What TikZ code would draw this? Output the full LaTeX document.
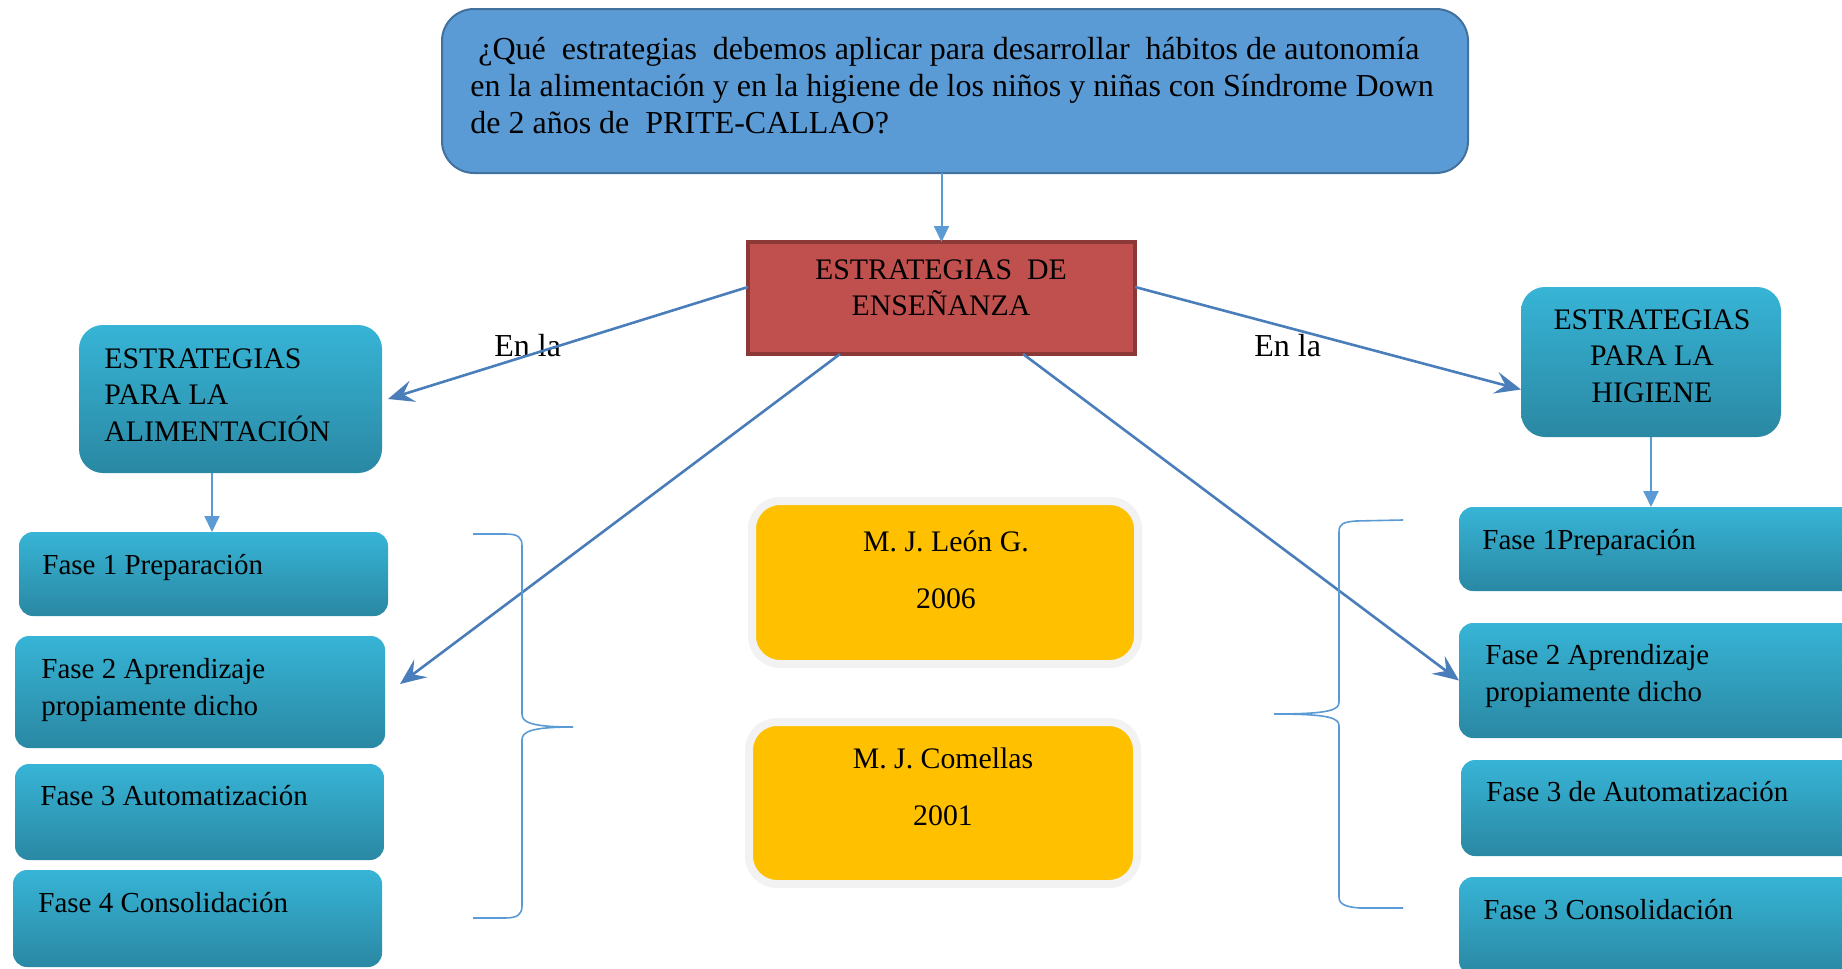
\documentclass[tikz,border=0pt]{standalone}
\usepackage{fontspec}
\setmainfont{Liberation Serif}
\usetikzlibrary{arrows.meta,calc}
\definecolor{qblue}{HTML}{5B9BD5}
\definecolor{qborder}{HTML}{41719C}
\definecolor{rfill}{HTML}{C0504D}
\definecolor{rborder}{HTML}{8C3836}
\definecolor{tealtop}{HTML}{37B4D6}
\definecolor{tealbot}{HTML}{2A88A3}
\definecolor{yfill}{HTML}{FFC000}
\definecolor{ybord}{HTML}{F2F2F2}
\definecolor{arrdark}{HTML}{4A7EBB}
\definecolor{arrlight}{HTML}{5B9BD5}
\tikzset{
  box/.style={rectangle, inner sep=0pt, outer sep=0pt},
  qbox/.style={box, rounded corners=16pt, fill=qblue, draw=qborder, line width=1pt},
  rbox/.style={box, fill=rfill, draw=rborder, line width=2pt},
  tbox/.style={box, rounded corners=12pt, top color=tealtop, bottom color=tealbot, draw=none},
  fbox/.style={box, rounded corners=7pt, top color=tealtop, bottom color=tealbot, draw=none},
  ybox/.style={box, rounded corners=14pt, fill=yfill, draw=ybord, line width=4pt},
  txt/.style={inner sep=0pt, font=\fontsize{14.5pt}{18.5pt}\selectfont},
  captxt/.style={inner sep=0pt, font=\fontsize{14.9pt}{18.3pt}\selectfont},
  bigtxt/.style={inner sep=0pt, font=\fontsize{16pt}{18.5pt}\selectfont},
  bigarrow/.style={draw=arrdark, line width=1.3pt, -{Stealth[length=13pt,width=11pt,inset=5pt]}},
  smallarrow/.style={draw=arrlight, line width=1pt, -{Triangle[length=8pt,width=7.5pt]}},
  bracestyle/.style={draw=arrlight, line width=0.8pt}
}
\begin{document}
\begin{tikzpicture}[x=0.5pt,y=-0.5pt]
\clip (0,0) rectangle (1842,969);
\fill[white] (0,0) rectangle (1842,969);

% boxes
\node[qbox, minimum width=513pt, minimum height=82pt] (top) at (955,91) {};
\node[rbox, minimum width=193.5pt, minimum height=56pt] (red) at (941.5,298) {};
\node[tbox, minimum width=151.5pt, minimum height=74pt] (alim) at (230.5,399) {};
\node[tbox, minimum width=130pt, minimum height=75pt] (hig) at (1651,362) {};

\node[fbox, minimum width=184.5pt, minimum height=42pt] (f1l) at (203.5,574) {};
\node[fbox, minimum width=185pt, minimum height=56pt] (f2l) at (200,692) {};
\node[fbox, minimum width=184.5pt, minimum height=48pt] (f3l) at (199.5,812) {};
\node[fbox, minimum width=184.5pt, minimum height=48.5pt] (f4l) at (197.5,918.5) {};

\node[fbox, minimum width=205.5pt, minimum height=42pt] (f1r) at (1664.5,549) {};
\node[fbox, minimum width=205.5pt, minimum height=57.5pt] (f2r) at (1664.5,680.5) {};
\node[fbox, minimum width=204.5pt, minimum height=48pt] (f3r) at (1665.5,808) {};
\node[fbox, minimum width=205.5pt, minimum height=49pt] (f4r) at (1664.5,926) {};

\node[ybox, minimum width=193pt, minimum height=81.5pt] (y1) at (945,582.5) {};
\node[ybox, minimum width=194pt, minimum height=81pt] (y2) at (943,803) {};

% texts
\node[bigtxt, anchor=north west, align=left] (qtext) at (470,37)
  {\hspace{4pt}¿Qué\ \ estrategias\ \ debemos aplicar para desarrollar\ \ hábitos de autonomía\\
   en la alimentación y en la higiene de los niños y niñas con Síndrome Down\\
   de 2 años de\ \ PRITE-CALLAO?};
\node[captxt, anchor=north, align=center] (rtext) at (941,259) {ESTRATEGIAS\ \ DE\\ENSEÑANZA};
\node[captxt, anchor=north west, align=left] (atext) at (104,348) {ESTRATEGIAS\\PARA LA\\ALIMENTACIÓN};
\node[captxt, anchor=north, align=center] (htext) at (1652,309) {ESTRATEGIAS\\PARA LA\\HIGIENE};

\node[txt, anchor=north west, align=left] (t1l) at (42,554) {Fase 1 Preparación};
\node[txt, anchor=north west, align=left] (t2l) at (41,658) {Fase 2 Aprendizaje\\propiamente dicho};
\node[txt, anchor=north west, align=left] (t3l) at (40,785) {Fase 3 Automatización};
\node[txt, anchor=north west, align=left] (t4l) at (38,892) {Fase 4 Consolidación};

\node[txt, anchor=north west, align=left] (t1r) at (1482,529) {Fase 1Preparación};
\node[txt, anchor=north west, align=left] (t2r) at (1485,644) {Fase 2 Aprendizaje\\propiamente dicho};
\node[txt, anchor=north west, align=left] (t3r) at (1486,781) {Fase 3 de Automatización};
\node[txt, anchor=north west, align=left] (t4r) at (1483,899) {Fase 3 Consolidación};

\node[captxt, anchor=north, align=center] (ty1) at (946,530) {M. J. León G.\\[10.5pt]2006};
\node[captxt, anchor=north, align=center] (ty2) at (943,747) {M. J. Comellas\\[10.5pt]2001};

\node[bigtxt, anchor=base west] (enl) at (494,356) {En la};
\node[bigtxt, anchor=base west] (enr) at (1254,356) {En la};

% connectors
\draw[smallarrow] (red.north |- top.south) -- (red.north);
\coordinate (a1) at ([xshift=-9.25pt]alim.south);
\draw[smallarrow] (a1) -- (a1 |- f1l.north);
\draw[smallarrow] (hig.south) -- (hig.south |- f1r.north);

\draw[bigarrow] ([yshift=5.5pt]red.west) -- ([xshift=3pt]alim.east);
\draw[bigarrow] ([yshift=5.5pt]red.east) -- ([yshift=-13.75pt]hig.west);
\draw[bigarrow] ([xshift=-50.75pt]red.south) -- ([xshift=7.5pt,yshift=4pt]f2l.east);
\draw[bigarrow] ([xshift=40.75pt]red.south) -- (f2r.west);

% braces
\draw[bracestyle] (473,534) -- (505,534) .. controls (518,534) and (522,537) .. (522,546)
  -- (522,714) .. controls (522,722) and (530,727) .. (573,727)
  .. controls (530,727) and (522,732) .. (522,740)
  -- (522,906) .. controls (522,914) and (518,918) .. (505,918) -- (473,918);
\draw[bracestyle] (1403,520) -- (1356,521) .. controls (1343,522) and (1339,524) .. (1339,532)
  -- (1339,702) .. controls (1339,710) and (1330,714) .. (1274,714)
  .. controls (1330,714) and (1339,718) .. (1339,726)
  -- (1339,897) .. controls (1339,904) and (1345,907) .. (1360,908) -- (1403,908);
\end{tikzpicture}
\end{document}
